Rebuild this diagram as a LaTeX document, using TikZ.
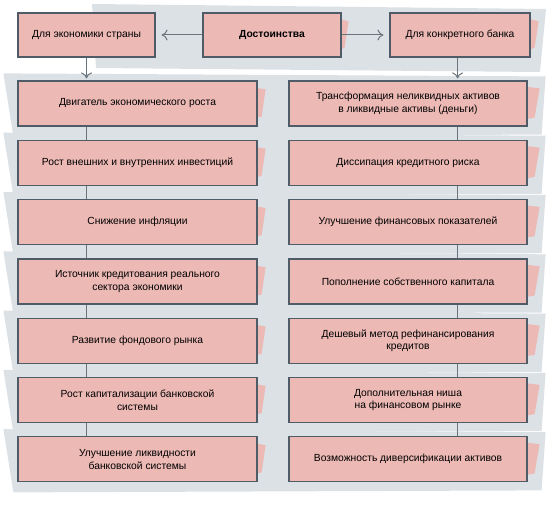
\documentclass[tikz,border=0pt]{standalone}
\usepackage{fontspec}
\setmainfont{Liberation Sans}
\usetikzlibrary{arrows.meta,positioning,calc,backgrounds}
\definecolor{boxpink}{HTML}{ECB9B5}
\definecolor{edgegray}{HTML}{4F5B66}
\definecolor{bandgray}{HTML}{DCE1E6}
\begin{document}
\begin{tikzpicture}[x=1pt, y=-1pt,
    item/.style={rectangle, draw=edgegray, line width=1.2pt, fill=boxpink, minimum width=239pt, minimum height=45pt, align=center, font=\fontsize{10.3}{12.5}\selectfont, inner sep=2pt},
    head/.style={item, minimum width=138pt, minimum height=44pt},
    arrow/.style={-{To[length=6pt, width=11pt]}, draw=edgegray!85, line width=1pt},
    link/.style={draw=edgegray!85, line width=1pt},
    band/.style={fill=bandgray},
    smudge/.style={fill=boxpink},
]
\useasboundingbox (0,0) rectangle (552,508);

% Header row
\node[head, font=\fontsize{10.3}{12.5}\selectfont\bfseries] (main) at (272,35) {Достоинства};
\node[head, minimum width=137pt] (econ) at (86.5,35) {Для экономики страны};
\node[head, minimum width=140pt] (bank) at (460,35) {Для конкретного банка};

\draw[arrow, shorten >=6pt] (main) -- (econ);
\draw[arrow, shorten >=6pt] (main) -- (bank);

% Left column: for the economy
\foreach \i/\txt in {1/{Двигатель экономического роста},
                     2/{Рост внешних и внутренних инвестиций},
                     3/{Снижение инфляции},
                     4/{Источник кредитования реального\\сектора экономики},
                     5/{Развитие фондового рынка},
                     6/{Рост капитализации банковской\\системы},
                     7/{Улучшение ликвидности\\банковской системы}}
    \node[item] (l\i) at (137.5, {103.5+59.3*(\i-1)}) {\txt};

% Right column: for the bank
\foreach \i/\txt in {1/{Трансформация неликвидных активов\\в ликвидные активы (деньги)},
                     2/{Диссипация кредитного риска},
                     3/{Улучшение финансовых показателей},
                     4/{Пополнение собственного капитала},
                     5/{Дешевый метод рефинансирования\\кредитов},
                     6/{Дополнительная ниша\\на финансовом рынке},
                     7/{Возможность диверсификации активов}}
    \node[item, minimum width=238pt] (r\i) at (408, {103.5+59.3*(\i-1)}) {\txt};

% Connectors
\draw[arrow, shorten >=2pt] (econ) -- (econ |- l1.north);
\draw[arrow, shorten >=2pt] (bank.south -| r1.north east) ++(-70,0) -- ($(r1.north east)+(-70,0)$);
\foreach \i [evaluate=\i as \j using int(\i+1)] in {1,...,6} {
    \draw[link] (econ.south |- l\i.south) -- (econ.south |- l\j.north);
    \draw[link] ($(r\i.south east)+(-70,0)$) -- ($(r\j.north east)+(-70,0)$);
}

% Brush strokes behind the boxes
\begin{scope}[on background layer]
    \fill[band] (92,4) -- (546,9) -- (540,72) -- (96,68) -- cycle;
    \foreach \i in {1,...,7} {
        \fill[band] ($(l\i.north west)+(-14,-7)$) -- ($(r\i.north east)+(18,-4)$)
            -- ($(r\i.south east)+(14,8)$) -- ($(l\i.south west)+(-4,10)$) -- cycle;
        \fill[smudge] ($(l\i.north east)+(-20,4)$) -- ($(l\i.north east)+(8,9)$)
            -- ($(l\i.south east)+(4,-10)$) -- ($(l\i.south east)+(-20,-4)$) -- cycle;
        \fill[smudge] ($(r\i.north east)+(-20,4)$) -- ($(r\i.north east)+(12,8)$)
            -- ($(r\i.south east)+(7,-9)$) -- ($(r\i.south east)+(-20,-4)$) -- cycle;
    }
    \fill[smudge] ($(main.north east)+(-10,4)$) -- ($(main.north east)+(7,9)$)
        -- ($(main.south east)+(3,-10)$) -- ($(main.south east)+(-10,-4)$) -- cycle;
    \fill[smudge] ($(bank.north east)+(-10,4)$) -- ($(bank.north east)+(8,9)$)
        -- ($(bank.south east)+(4,-10)$) -- ($(bank.south east)+(-10,-4)$) -- cycle;
\end{scope}
\end{tikzpicture}
\end{document}
